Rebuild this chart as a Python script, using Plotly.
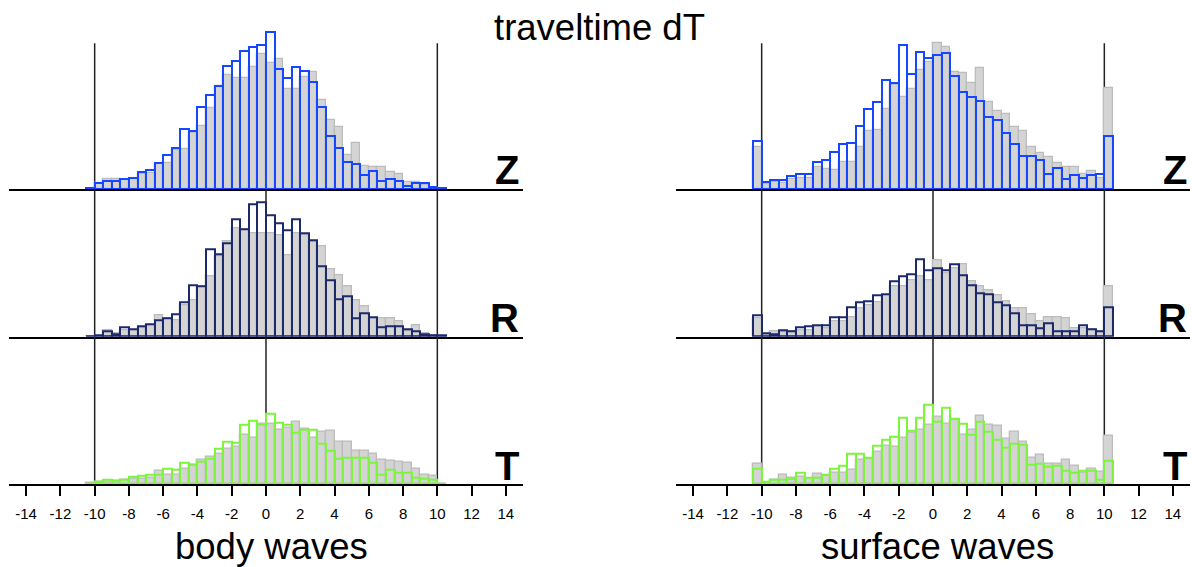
import plotly.graph_objects as go

# bin centres: 0.5-wide bins from -10.5 to 10.5
bin_centers = [-10.25 + 0.5 * i for i in range(42)]
tick_vals = list(range(-14, 15, 2))
tick_text = [str(v) for v in tick_vals]
components = ["Z", "R", "T"]
columns = ["body waves", "surface waves"]

# ---- body waves ----
body_Z_ref = [0.5, 6, 10.7, 10.7, 9.3, 10, 15.3, 16.7, 25.3, 26, 39.3, 40, 56, 63.3, 81, 103, 114.3, 111, 111, 122.7, 135,
              126, 130, 100, 100, 112.7, 117.7, 89, 69.3, 62.7, 34.3, 46, 23.3, 22.7, 22.7, 17.7, 15, 7.7, 7.7, 4, 1.7, 0]
body_Z = [1, 6, 8.3, 8.3, 10, 11.3, 17.3, 19, 26, 34.3, 41, 60.3, 58.7, 82.7, 94.3, 103, 123.7, 128.7, 138.7, 142, 144,
          157.7, 120.3, 111, 122.3, 118, 107.3, 82.3, 53.3, 41, 27, 25, 14.3, 18.7, 8.7, 10.3, 8, 3.7, 6.3, 6.7, 2, 1]

body_R_ref = [0, 0.7, 6.7, 3.3, 6.7, 6.7, 8.3, 11.7, 21.7, 18.3, 16.7, 31.7, 36.7, 50, 60.7, 80, 95, 108.3, 107.3, 103.3, 103.3,
              103.3, 101.7, 81, 103.3, 101, 94.3, 90.7, 67.3, 61.7, 50, 36.7, 30, 18.3, 18.3, 18.3, 15, 5, 11.7, 3.3, 1, 0]
body_R = [0.7, 1, 5, 2.7, 9, 7.3, 10, 12, 16.7, 18.3, 22.3, 34.3, 51, 50, 87.3, 82.3, 93.3, 117.7, 107.3, 132.3, 134.3,
          121, 113.7, 106, 117.7, 103.3, 96.7, 70, 56.7, 37.7, 40, 18.3, 23.3, 19.3, 9.3, 10, 10, 7.3, 5, 2.3, 1.3, 1]

body_T_ref = [1.3, 2.3, 2.3, 3.3, 4, 5, 5.7, 6.7, 13, 9, 9, 15.7, 19.7, 24, 27.3, 30.7, 35.7, 37.3, 49.7, 46.7, 60.7,
              60.7, 54.7, 56.3, 62.3, 55.7, 46.7, 52.3, 53.3, 42.3, 42.3, 33, 33, 30.7, 24.7, 23.3, 22.3, 21.7, 15.7, 9, 8, 0]
body_T = [0.3, 2.3, 4.7, 3.3, 4, 7, 8, 9.7, 9, 15, 14, 21.3, 19, 22.3, 25.7, 35, 42.7, 41.7, 59.7, 63, 59,
          70, 61.7, 59, 51.7, 54.7, 54.7, 40.7, 33, 25, 26.7, 26, 26, 21.7, 9, 14, 11.7, 11.7, 6.3, 5.7, 4, 0.7]

# ---- surface waves ----
surf_Z_ref = [42.7, 5.3, 7.7, 6.7, 10, 11, 11.3, 22.7, 20, 19.3, 27.7, 27.7, 42.7, 58.3, 59.3, 80, 104.3, 92.7, 100, 119.3, 127.7,
              146, 142, 117.7, 116, 106, 121, 87.7, 78.7, 75.3, 62, 58.3, 42.7, 36.7, 32.7, 26.7, 22, 22.3, 15.3, 18.7, 11, 101]
surf_Z = [48.7, 7, 9, 9.3, 13, 15.3, 15.3, 27.3, 29, 37, 45.7, 46.3, 63.7, 80, 87.3, 109.3, 106, 144.3, 115, 137.3, 131,
          134.3, 136.3, 113, 97.7, 92.7, 88.7, 72, 69, 56.7, 45.7, 33, 33, 29, 15.3, 21.7, 10.7, 14.3, 11.3, 14, 15.3, 53.3]

surf_R_ref = [18.3, 1.7, 5, 4, 5, 6.7, 6, 10, 8.3, 15, 15, 19, 28.3, 31.7, 34, 41.7, 50, 50.7, 56, 60, 56.7,
              76.7, 63.3, 68.3, 72.7, 55, 50, 46.7, 41.7, 35, 28.3, 28.3, 22.3, 15.7, 19.3, 19.3, 18.3, 8.3, 8.3, 7.3, 5, 50.7]
surf_R = [21.3, 3.3, 2.7, 6.7, 5.3, 9, 10, 11.7, 11, 19.3, 19.3, 29.3, 34, 35.7, 41.3, 42.3, 55.7, 60, 62.3, 77.3, 66.7,
          68.7, 66.3, 72.3, 61, 51.3, 43.7, 42.3, 34.3, 31.7, 23.7, 11.3, 11, 8.7, 13, 5, 5.7, 5.3, 11, 7, 5.3, 29.3]

surf_T_ref = [20.7, 0.5, 4.7, 9.7, 6.7, 7.3, 5.7, 10.7, 8, 11.3, 11.3, 14, 24, 25, 32.3, 38, 37.3, 46.7, 51.3, 54, 59.7,
              67.7, 60.7, 64, 49, 54, 68, 59, 58.3, 45.7, 52, 42.3, 26.7, 29.7, 20.7, 20.7, 24, 18, 11.3, 15.7, 12.3, 48.3]
surf_T = [15.7, 2, 4, 4.7, 5.7, 11.3, 6.3, 6, 9, 15.7, 18.3, 30, 30.7, 26.3, 38, 44.7, 47, 66, 53.3, 66, 79.7,
          62.3, 76.3, 65, 60, 49, 62, 52, 44.7, 36.3, 40.3, 39.7, 19.3, 20, 17.3, 18, 13, 11.3, 13, 13.3, 4.7, 23.3]

panels = {
    (0, 0): (body_Z_ref, body_Z), (1, 0): (body_R_ref, body_R), (2, 0): (body_T_ref, body_T),
    (0, 1): (surf_Z_ref, surf_Z), (1, 1): (surf_R_ref, surf_R), (2, 1): (surf_T_ref, surf_T),
}
comp_colors = ["#1447ff", "#1c2a6c", "#7cf53c"]

W, H = 1192, 567
def py(pix):
    return 1 - pix / H

x_domains = [[9 / W, 523 / W], [676 / W, 1190 / W]]
rows_px = [(189.3, 15.0), (336.7, 189.3), (484.0, 336.7)]
line_tops = [146.0, None, None]

fig = go.Figure()
layout = dict(
    width=W, height=H, margin=dict(l=0, r=0, t=0, b=0),
    paper_bgcolor="white", plot_bgcolor="rgba(0,0,0,0)",
    barmode="overlay", bargap=0, showlegend=False,
    font=dict(family="Liberation Sans, Arial, sans-serif", color="black"),
)
shapes = []
annotations = []
idx = 0
for r in range(3):
    for c in range(2):
        idx += 1
        xa = "x" if idx == 1 else f"x{idx}"
        ya = "y" if idx == 1 else f"y{idx}"
        ref, val = panels[(r, c)]
        bot, top = rows_px[r]
        ymax = bot - top
        fig.add_trace(go.Bar(x=bin_centers, y=ref, width=0.5, xaxis=xa, yaxis=ya,
                             marker=dict(color="#d4d4d4", line=dict(color="#bcbcbc", width=1.3))))
        fig.add_trace(go.Bar(x=bin_centers, y=val, width=0.5, xaxis=xa, yaxis=ya,
                             marker=dict(color="rgba(0,0,0,0)", line=dict(color=comp_colors[r], width=2))))
        xkey = "xaxis" if idx == 1 else f"xaxis{idx}"
        ykey = "yaxis" if idx == 1 else f"yaxis{idx}"
        xdict = dict(domain=x_domains[c], range=[-15, 15], anchor=ya,
                     showline=True, linecolor="black", linewidth=1.5,
                     showgrid=False, zeroline=False)
        if r == 2:
            xdict.update(tickmode="array", tickvals=tick_vals, ticktext=tick_text,
                         ticks="outside", ticklen=10, tickwidth=1.5, tickcolor="black",
                         ticklabelstandoff=5,
                         tickfont=dict(size=15, color="black"))
        else:
            xdict.update(showticklabels=False, ticks="")
        layout[xkey] = xdict
        layout[ykey] = dict(domain=[py(bot), py(top)], range=[0, ymax], anchor=xa,
                            visible=False, fixedrange=True)
        lt = line_tops[r] if line_tops[r] is not None else ymax
        for v in (-10, 0, 10):
            shapes.append(dict(type="line", xref=xa, yref=ya, x0=v, x1=v, y0=0, y1=lt,
                               line=dict(color="#222222", width=1.5), layer="below"))
        xr = 521 if c == 0 else 1189
        cy = [170, 318, 466][r]
        annotations.append(dict(text=f"<b>{components[r]}</b>", xref="paper", yref="paper",
                                x=xr / W, y=py(cy), xanchor="right", yanchor="middle",
                                showarrow=False, font=dict(size=40, color="black")))

annotations.append(dict(text="traveltime dT", xref="paper", yref="paper", x=599 / W, y=py(27),
                        xanchor="center", yanchor="middle", showarrow=False, font=dict(size=36.5)))
annotations.append(dict(text=columns[0], xref="paper", yref="paper", x=271 / W, y=py(546),
                        xanchor="center", yanchor="middle", showarrow=False, font=dict(size=36.5)))
annotations.append(dict(text=columns[1], xref="paper", yref="paper", x=937 / W, y=py(546),
                        xanchor="center", yanchor="middle", showarrow=False, font=dict(size=36.5)))
layout["shapes"] = shapes
layout["annotations"] = annotations
fig.update_layout(**layout)
fig.write_html("out.html")
